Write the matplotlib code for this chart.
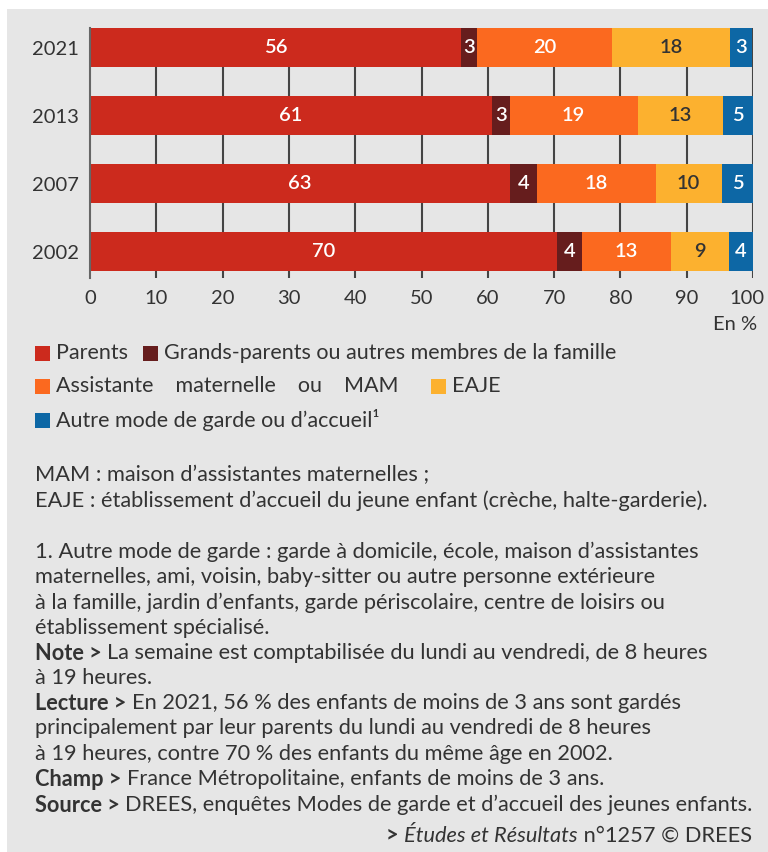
import matplotlib.pyplot as plt
from matplotlib.patches import Rectangle
from matplotlib.transforms import ScaledTranslation
import numpy as np

# --- data -------------------------------------------------------------
years = ["2002", "2007", "2013", "2021"]
categories = [
    "Parents",
    "Grands-parents ou autres membres de la famille",
    "Assistante    maternelle    ou    MAM",
    "EAJE",
    "Autre mode de garde ou d\u2019accueil\u00b9",
]
# bar widths (order = years)
parents = [70.5, 63.4, 60.6, 56.0]
grands_parents = [3.7, 4.0, 2.7, 2.4]
assistante = [13.4, 17.9, 19.3, 20.4]
eaje = [8.8, 10.0, 12.9, 17.7]
autre = [3.6, 4.7, 4.5, 3.4]
# published (rounded) labels
lab_parents = [70, 63, 61, 56]
lab_grands = [4, 4, 3, 3]
lab_assist = [13, 18, 19, 20]
lab_eaje = [9, 10, 13, 18]
lab_autre = [4, 5, 5, 3]
xticks = list(range(0, 101, 10))

colors = ["#cc2a1d", "#661d1d", "#fb691f", "#fcb12f", "#0d67a5"]
label_colors = ["white", "white", "white", "#333333", "white"]

FONT = ["Lato", "DejaVu Sans"]
TXT = "#333333"
W, H = 768, 852
FS = 15.7

plt.rcParams["font.family"] = FONT

fig = plt.figure(figsize=(W / 100, H / 100), dpi=100)
fig.patches.append(Rectangle((7 / W, 0), 1, 1 - 9 / H, transform=fig.transFigure,
                             facecolor="#e6e6e6", edgecolor="none", zorder=-5))

# axes placed in pixel terms
ax_l, ax_r, ax_t, ax_b = 90, 753, 28, 278
ax = fig.add_axes([ax_l / W, 1 - ax_b / H, (ax_r - ax_l) / W, (ax_b - ax_t) / H])
ax.set_facecolor("none")
ax.set_zorder(2)

ypos = np.arange(len(years))
bar_h = 0.58

# vertical grid drawn behind the bars
ax.vlines(xticks[1:], -0.39, 3.29, colors="#444444", linewidth=1.5, zorder=1)

series = [parents, grands_parents, assistante, eaje, autre]
labels = [lab_parents, lab_grands, lab_assist, lab_eaje, lab_autre]
left = np.zeros(len(years))
for vals, labs, col, lcol in zip(series, labels, colors, label_colors):
    bars = ax.barh(ypos, vals, left=left.copy(), height=bar_h, color=col, zorder=3, linewidth=0)
    ax.bar_label(bars, labels=[str(v) for v in labs], label_type="center",
                 color=lcol, fontsize=14.5, fontweight="semibold")
    left = left + np.array(vals)

ax.set_xlim(0, 100)
ax.set_ylim(-0.39, 3.29)
ax.set_xticks(xticks)
ax.set_yticks(ypos)
ax.set_yticklabels(years)
ax.tick_params(axis="x", length=0, pad=9, labelsize=14.5, labelcolor=TXT)
ax.tick_params(axis="y", length=0, pad=8, labelsize=14.5, labelcolor=TXT)
for s in ["top", "right", "bottom"]:
    ax.spines[s].set_visible(False)
ax.spines["left"].set_color("#666666")
ax.spines["left"].set_linewidth(1.5)
ax.spines["left"].set_zorder(4)

# the "100" label sits a little left of its gridline in the original
last = ax.get_xticklabels()[-1]
last.set_transform(last.get_transform() + ScaledTranslation(-6 / 100, 0, fig.dpi_scale_trans))

fig.text(757 / W, 1 - 325 / H, "En %", ha="right", va="center", fontsize=14.5, color=TXT)


def fx(px):
    return px / W


def fy(py):
    return 1 - py / H


# --- legend (manual layout) ---
legend_items = [
    (35, 353, 0), (143, 353, 1),
    (35, 386, 2), (431, 386, 3),
    (35, 420, 4),
]
for x0, yc, i in legend_items:
    fig.patches.append(Rectangle((fx(x0), fy(yc + 7.5)), 15 / W, 15 / H,
                                 transform=fig.transFigure, facecolor=colors[i],
                                 edgecolor="none", zorder=2))
    fig.text(fx(x0 + 21), fy(yc), categories[i], ha="left", va="center",
             fontsize=15.5, color=TXT)

# --- notes ---
renderer = fig.canvas.get_renderer()


def segments(x_px, y_px, parts, ha="left"):
    # parts: list of (text, weight, style)
    objs = []
    for txt, wt, st in parts:
        t = fig.text(0, fy(y_px), txt, ha="left", va="center", fontsize=FS,
                     color=TXT, fontweight=wt, fontstyle=st)
        objs.append(t)
    widths = [o.get_window_extent(renderer).width for o in objs]
    x = x_px if ha == "left" else x_px - sum(widths)
    for o, w in zip(objs, widths):
        o.set_x(fx(x))
        x += w


note_lines = [
    (475, [("MAM : maison d\u2019assistantes maternelles ;", "normal", "normal")]),
    (501, [("EAJE : \u00e9tablissement d\u2019accueil du jeune enfant (cr\u00e8che, halte-garderie).", "normal", "normal")]),
    (552, [("1. Autre mode de garde : garde \u00e0 domicile, \u00e9cole, maison d\u2019assistantes", "normal", "normal")]),
    (577, [("maternelles, ami, voisin, baby-sitter ou autre personne ext\u00e9rieure", "normal", "normal")]),
    (603, [("\u00e0 la famille, jardin d\u2019enfants, garde p\u00e9riscolaire, centre de loisirs ou", "normal", "normal")]),
    (628, [("\u00e9tablissement sp\u00e9cialis\u00e9.", "normal", "normal")]),
    (653, [("Note > ", "bold", "normal"),
           ("La semaine est comptabilis\u00e9e du lundi au vendredi, de 8 heures", "normal", "normal")]),
    (678, [("\u00e0 19 heures.", "normal", "normal")]),
    (703, [("Lecture > ", "bold", "normal"),
           ("En 2021, 56 % des enfants de moins de 3 ans sont gard\u00e9s", "normal", "normal")]),
    (728, [("principalement par leur parents du lundi au vendredi de 8 heures", "normal", "normal")]),
    (754, [("\u00e0 19 heures, contre 70 % des enfants du m\u00eame \u00e2ge en 2002.", "normal", "normal")]),
    (779, [("Champ > ", "bold", "normal"),
           ("France M\u00e9tropolitaine, enfants de moins de 3 ans.", "normal", "normal")]),
    (805, [("Source > ", "bold", "normal"),
           ("DREES, enqu\u00eates Modes de garde et d\u2019accueil des jeunes enfants.", "normal", "normal")]),
]
for yl, parts in note_lines:
    segments(35, yl, parts)

segments(752, 836, [("> ", "bold", "normal"),
                    ("\u00c9tudes et R\u00e9sultats", "normal", "italic"),
                    (" n\u00b01257 \u00a9 DREES", "normal", "normal")], ha="right")

fig.savefig("out.png", dpi=100)
